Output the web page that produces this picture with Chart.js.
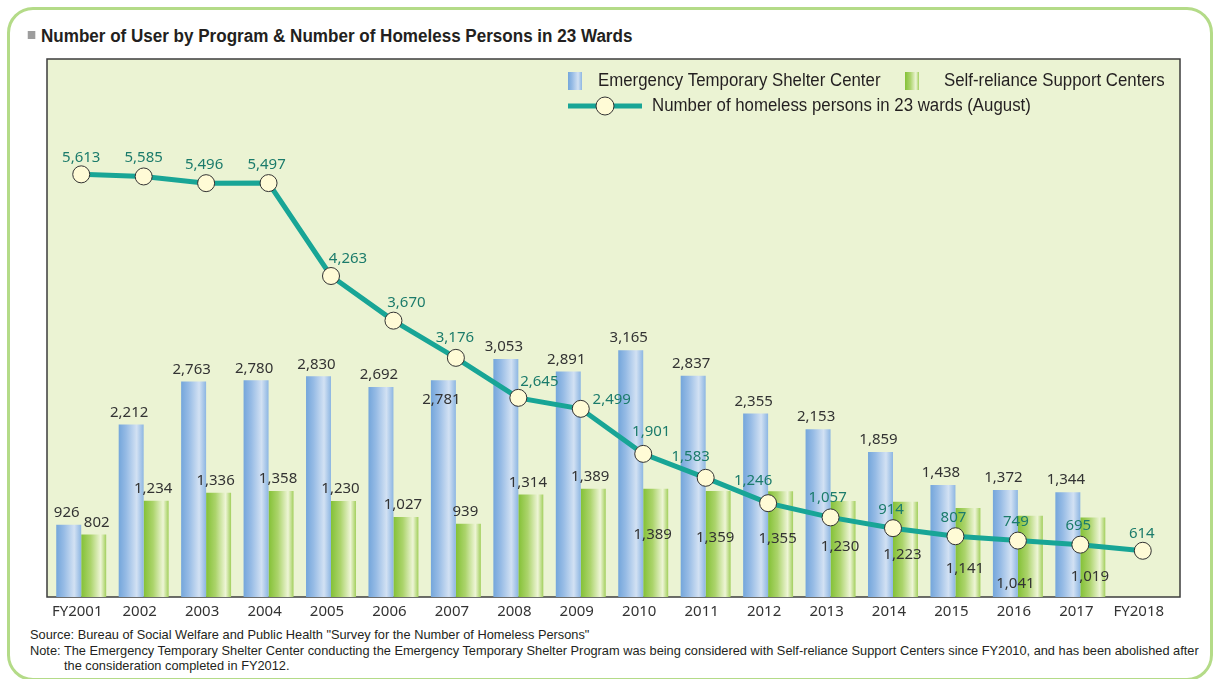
<!DOCTYPE html>
<html>
<head>
<meta charset="utf-8">
<title>Number of User by Program & Number of Homeless Persons in 23 Wards</title>
<script src="https://cdn.jsdelivr.net/npm/chart.js@4/dist/chart.umd.min.js"></script>
<style>
    body {
        margin: 0;
        width: 1215px;
        height: 679px;
        background: #ffffff;
        position: relative;
        overflow: hidden;
        font-family: "Liberation Sans", Arial, sans-serif;
    }
    .card {
        position: absolute;
        left: 7px;
        top: 7px;
        width: 1206px;
        height: 674px;
        box-sizing: border-box;
        border: 3px solid #b4db88;
        border-radius: 26px;
    }
    .title {
        position: absolute;
        left: 27px;
        top: 26px;
        font-size: 18px;
        font-weight: bold;
        color: #231f20;
        white-space: nowrap;
        transform: scaleX(0.947);
        transform-origin: 14px 0;
    }
    .title .square {
        display: inline-block;
        width: 8px;
        height: 8px;
        background: #9d9d9d;
        margin-right: 6px;
        vertical-align: 3px;
    }
    .notes {
        position: absolute;
        left: 30px;
        top: 627px;
        font-size: 12.8px;
        line-height: 15.5px;
        color: #231f20;
        white-space: nowrap;
    }
    .notes .indent {
        padding-left: 34px;
    }
    canvas {
        position: absolute;
        left: 0;
        top: 0;
    }
</style>
</head>
<body>
<div class="card"></div>
<div class="title"><span class="square"></span>Number of User by Program &amp; Number of Homeless Persons in 23 Wards</div>
<div class="notes">
    <div>Source: Bureau of Social Welfare and Public Health "Survey for the Number of Homeless Persons"</div>
    <div>Note: The Emergency Temporary Shelter Center conducting the Emergency Temporary Shelter Program was being considered with Self-reliance Support Centers since FY2010, and has been abolished after</div>
    <div class="indent">the consideration completed in FY2012.</div>
</div>
<canvas id="chart" width="1215" height="679"></canvas>
<script>
// Data
const years = ['FY2001', '2002', '2003', '2004', '2005', '2006', '2007', '2008', '2009',
    '2010', '2011', '2012', '2013', '2014', '2015', '2016', '2017', 'FY2018'];
const shelterUsers = [926, 2212, 2763, 2780, 2830, 2692, 2781, 3053, 2891,
    3165, 2837, 2355, 2153, 1859, 1438, 1372, 1344, null];
const supportUsers = [802, 1234, 1336, 1358, 1230, 1027, 939, 1314, 1389,
    1389, 1359, 1355, 1230, 1223, 1141, 1041, 1019, null];
const homeless = [5613, 5585, 5496, 5497, 4263, 3670, 3176, 2645, 2499,
    1901, 1583, 1246, 1057, 914, 807, 749, 695, 614];

const seriesNames = ['Emergency Temporary Shelter Center', 'Self-reliance Support Centers',
    'Number of homeless persons in 23 wards (August)'];

// Label placement tweaks (px from the mark)
const shelterLabelDy = [-12, -12, -12, -12, -12, -12, 20, -12, -12, -12, -12, -12, -12, -12, -12, -12, -12];
const supportLabelDx = [3, -3, -3, -3, -3, -3, -3, -3, -3, -3, -3, -3, -3, -3, -3, -15, -3];
const supportLabelDy = [-12, -12, -12, -12, -12, -12, -12, -12, -12, 46, 47, 47, 46, 53, 61, 68, 59];
const homelessLabelDx = [0, 0, -2, -2, 17, 13, -1, 21, 31, 8, -15, -15, -3, -2, -2, -2, -2, -1];
const homelessLabelDy = [-17, -19, -18, -18, -17, -18, -20, -16, -9, -22, -21, -22, -20, -18, -19, -19, -19, -17];

const LABEL_FONT = '15px "Noto Sans", "Open Sans", sans-serif';
const LEGEND_FONT = '18px "Liberation Sans", Arial, sans-serif';
const LEGEND_SQUEEZE = 0.935;

const CAT_PCT = 0.8;
const BAR_PCT = 1.0;

const fmt = v => v.toLocaleString('en-US');

function hGradient(ctx, x0, x1, stops) {
    const g = ctx.createLinearGradient(x0, 0, x1, 0);
    stops.forEach(s => g.addColorStop(s[0], s[1]));
    return g;
}

const blueStops = [[0, '#74a6db'], [0.3, '#96bbe5'], [0.72, '#d2e1f3'], [1, '#8db6e2']];
const greenStops = [[0, '#84c136'], [0.38, '#acd46c'], [0.78, '#eef5d6'], [1, '#a2cf5c']];

// Horizontal gradient for each bar, worked out from the x scale
function barFill(stops, side) {
    return function (context) {
        const chart = context.chart;
        const xs = chart.scales.x;
        if (!xs || !chart.chartArea) return stops[0][1];
        const cw = (xs.right - xs.left) / years.length;
        const bw = cw * CAT_PCT * BAR_PCT / 2;
        const c = xs.getPixelForValue(context.dataIndex);
        const x0 = side === 0 ? c - bw : c;
        return hGradient(chart.ctx, x0, x0 + bw, stops);
    };
}

// Plot background and frame
const framePlugin = {
    id: 'frame',
    beforeDatasetsDraw(chart) {
        const { ctx, chartArea: a } = chart;
        ctx.save();
        ctx.fillStyle = '#ebf3d3';
        ctx.fillRect(a.left - 3, a.top, a.right - a.left + 9, a.bottom - a.top);
        ctx.strokeStyle = '#3d3d3d';
        ctx.lineWidth = 1.5;
        ctx.strokeRect(a.left - 3, a.top, a.right - a.left + 9, a.bottom - a.top);
        ctx.restore();
    }
};

function squeezedText(ctx, text, x, y) {
    ctx.save();
    ctx.translate(x, y);
    ctx.scale(LEGEND_SQUEEZE, 1);
    ctx.fillText(text, 0, 0);
    ctx.restore();
}

// Value labels and legend
const labelPlugin = {
    id: 'labels',
    afterDatasetsDraw(chart) {
        const { ctx, chartArea: a } = chart;
        ctx.save();
        ctx.font = LABEL_FONT;
        ctx.textAlign = 'center';
        ctx.textBaseline = 'middle';

        ctx.fillStyle = '#333333';
        chart.getDatasetMeta(0).data.forEach((el, i) => {
            if (shelterUsers[i] == null) return;
            ctx.fillText(fmt(shelterUsers[i]), el.x - 2, el.y + shelterLabelDy[i]);
        });
        chart.getDatasetMeta(1).data.forEach((el, i) => {
            if (supportUsers[i] == null) return;
            ctx.fillText(fmt(supportUsers[i]), el.x + supportLabelDx[i], el.y + supportLabelDy[i]);
        });

        ctx.fillStyle = '#1b7b6b';
        chart.getDatasetMeta(2).data.forEach((el, i) => {
            ctx.fillText(fmt(homeless[i]), el.x + homelessLabelDx[i], el.y + homelessLabelDy[i]);
        });

        // Legend inside the plot, top right
        const lx = a.left + 518;
        const ly1 = a.top + 22;
        const ly2 = a.top + 47;
        ctx.font = LEGEND_FONT;
        ctx.textAlign = 'left';

        ctx.fillStyle = hGradient(ctx, lx, lx + 14, blueStops);
        ctx.fillRect(lx, ly1 - 9, 14, 18);
        ctx.fillStyle = '#231f20';
        squeezedText(ctx, seriesNames[0], lx + 30, ly1);

        ctx.fillStyle = hGradient(ctx, lx + 337, lx + 351, greenStops);
        ctx.fillRect(lx + 337, ly1 - 9, 14, 18);
        ctx.fillStyle = '#231f20';
        squeezedText(ctx, seriesNames[1], lx + 376, ly1);

        ctx.strokeStyle = '#18a596';
        ctx.lineWidth = 5;
        ctx.beginPath();
        ctx.moveTo(lx, ly2);
        ctx.lineTo(lx + 74, ly2);
        ctx.stroke();
        ctx.beginPath();
        ctx.arc(lx + 37, ly2, 9, 0, Math.PI * 2);
        ctx.fillStyle = '#fffbd6';
        ctx.fill();
        ctx.lineWidth = 1;
        ctx.strokeStyle = '#333333';
        ctx.stroke();
        ctx.fillStyle = '#231f20';
        squeezedText(ctx, seriesNames[2], lx + 84, ly2);

        ctx.restore();
    }
};

const ctx = document.getElementById('chart').getContext('2d');
new Chart(ctx, {
    data: {
        labels: years,
        datasets: [{
            type: 'bar',
            label: seriesNames[0],
            data: shelterUsers,
            yAxisID: 'y',
            backgroundColor: barFill(blueStops, 0),
            categoryPercentage: CAT_PCT,
            barPercentage: BAR_PCT,
            order: 2
        }, {
            type: 'bar',
            label: seriesNames[1],
            data: supportUsers,
            yAxisID: 'y',
            backgroundColor: barFill(greenStops, 1),
            categoryPercentage: CAT_PCT,
            barPercentage: BAR_PCT,
            order: 2
        }, {
            type: 'line',
            label: seriesNames[2],
            data: homeless,
            yAxisID: 'y1',
            borderColor: '#18a596',
            borderWidth: 5,
            pointRadius: 8.5,
            pointBackgroundColor: '#fffbd6',
            pointBorderColor: '#333333',
            pointBorderWidth: 1,
            tension: 0,
            order: 0
        }]
    },
    options: {
        responsive: false,
        animation: false,
        layout: {
            padding: { left: 50, top: 59, right: 41, bottom: 54 }
        },
        plugins: {
            legend: { display: false },
            tooltip: { enabled: false }
        },
        scales: {
            x: {
                grid: { display: false },
                border: { display: false },
                ticks: {
                    color: '#333333',
                    font: { family: '"Noto Sans", "Open Sans", sans-serif', size: 15 },
                    padding: -2,
                    labelOffset: -4,
                    maxRotation: 0,
                    autoSkip: false
                },
                afterFit(scale) { scale.height = 28; }
            },
            y: {
                display: false,
                min: 0,
                max: 6900
            },
            y1: {
                display: false,
                min: 0,
                max: 7145
            }
        }
    },
    plugins: [framePlugin, labelPlugin]
});
</script>
</body>
</html>
